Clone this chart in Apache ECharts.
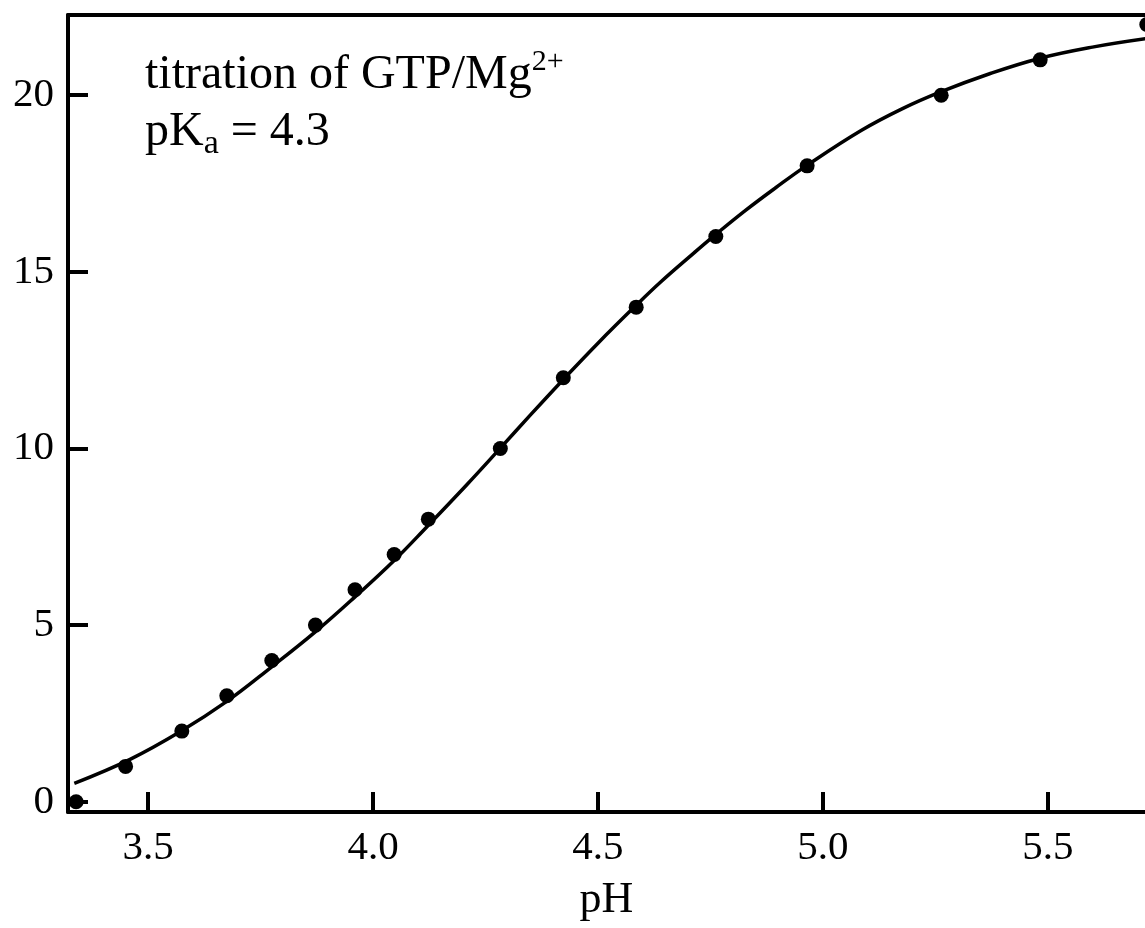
<!DOCTYPE html>
<html>
<head>
<meta charset="utf-8">
<script src="https://cdn.jsdelivr.net/npm/echarts@6/dist/echarts.min.js"></script>
<style>
html,body{margin:0;padding:0;background:#fff;}
#chart{width:1145px;height:928px;}
</style>
</head>
<body>
<div id="chart"></div>
<script>
// Measured titration points (pH, amount)
const pointPH = [3.34, 3.45, 3.575, 3.675, 3.775, 3.872, 3.96, 4.047, 4.123, 4.283, 4.423, 4.585, 4.762, 4.965, 5.263, 5.483, 5.72];
const pointY  = [0, 1, 2, 3, 4, 5, 6, 7, 8, 10, 12, 14, 16, 18, 20, 21, 22];

// Fitted curve
const curvePH = [3.336, 3.46, 3.571, 3.675, 3.775, 3.871, 3.96, 4.047, 4.121, 4.209, 4.281, 4.35, 4.422, 4.50, 4.583, 4.64, 4.713, 4.762, 4.828, 4.895, 4.963, 5.085, 5.177, 5.263, 5.369, 5.481, 5.599, 5.718];
const curveY  = [0.52, 1.2, 1.98, 2.84, 3.82, 4.80, 5.80, 6.83, 7.80, 8.98, 9.98, 10.95, 11.94, 12.98, 14.03, 14.72, 15.53, 16.06, 16.74, 17.38, 18.0, 19.0, 19.62, 20.1, 20.6, 21.04, 21.36, 21.6];

// Axis ticks and labels
const xTickValues = [3.5, 4.0, 4.5, 5.0, 5.5];
const xTickLabels = ['3.5', '4.0', '4.5', '5.0', '5.5'];
const yTickValues = [0, 5, 10, 15, 20];
const yTickLabels = ['0', '5', '10', '15', '20'];
const xName = 'pH';

const FONT = '"Liberation Serif", "Times New Roman", serif';

const chart = echarts.init(document.getElementById('chart'), null, {renderer: 'canvas'});

const axisLineStyle = {color: '#000', width: 4};

chart.setOption({
  backgroundColor: '#fff',
  animation: false,
  grid: {left: 68, right: 0, top: 15, bottom: 116, containLabel: false},
  xAxis: [{
    type: 'value',
    position: 'bottom',
    min: 3.322, max: 5.716,
    axisLine: {show: true, onZero: false, lineStyle: axisLineStyle},
    axisTick: {show: true, inside: true, length: 20, customValues: xTickValues, lineStyle: axisLineStyle},
    axisLabel: {
      show: true, customValues: xTickValues, margin: 16,
      color: '#000', fontFamily: FONT, fontSize: 41,
      formatter: function (v) { const i = xTickValues.indexOf(v); return i >= 0 ? xTickLabels[i] : ''; }
    },
    splitLine: {show: false},
    name: xName, nameLocation: 'middle', nameGap: 66,
    nameTextStyle: {color: '#000', fontFamily: FONT, fontSize: 44}
  }, {
    type: 'value',
    position: 'top',
    min: 3.322, max: 5.716,
    axisLine: {show: true, onZero: false, lineStyle: axisLineStyle},
    axisTick: {show: false},
    axisLabel: {show: false},
    splitLine: {show: false}
  }],
  yAxis: {
    type: 'value',
    min: -0.29, max: 22.27,
    axisLine: {show: true, onZero: false, lineStyle: axisLineStyle},
    axisTick: {show: true, inside: true, length: 20, customValues: yTickValues, lineStyle: axisLineStyle},
    axisLabel: {
      show: true, customValues: yTickValues, margin: 14,
      color: '#000', fontFamily: FONT, fontSize: 41,
      formatter: function (v) { const i = yTickValues.indexOf(v); return i >= 0 ? yTickLabels[i] : ''; }
    },
    splitLine: {show: false}
  },
  series: [{
    type: 'line',
    xAxisIndex: 0,
    data: curvePH.map((x, i) => [x, curveY[i]]),
    smooth: 0.4,
    showSymbol: false,
    clip: false,
    lineStyle: {color: '#000', width: 3.5},
    z: 2
  }, {
    type: 'scatter',
    xAxisIndex: 0,
    data: pointPH.map((x, i) => [x, pointY[i]]),
    symbol: 'circle',
    symbolSize: 15,
    clip: false,
    itemStyle: {color: '#000', opacity: 1},
    z: 3
  }],
  graphic: [{
    type: 'text',
    left: 145,
    top: 47,
    style: {
      text: '{m|titration of GTP/Mg}{sup|2+}\n{m|pK}{sub|a}{m| = 4.3}',
      fill: '#000',
      rich: {
        m: {fontFamily: FONT, fontSize: 48, lineHeight: 57, fill: '#000'},
        sup: {fontFamily: FONT, fontSize: 30, lineHeight: 16, verticalAlign: 'top', fill: '#000'},
        sub: {fontFamily: FONT, fontSize: 34, lineHeight: 10, verticalAlign: 'bottom', fill: '#000'}
      }
    }
  }]
});
</script>
</body>
</html>
